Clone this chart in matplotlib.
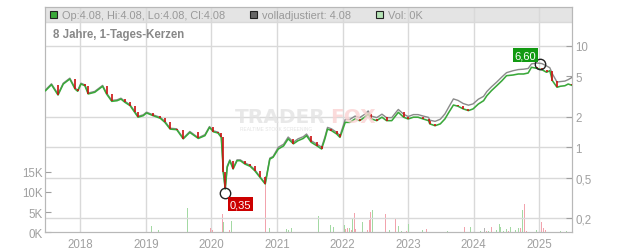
import matplotlib
matplotlib.use("Agg")
import matplotlib.pyplot as plt
from matplotlib.patches import Rectangle

plt.rcParams['font.family'] = ['Liberation Sans', 'DejaVu Sans']

# daily closes (decimal years)
dates = [2017.47, 2017.56, 2017.66, 2017.74, 2017.84, 2017.92, 2017.96,
         2018.01, 2018.07, 2018.12, 2018.22, 2018.34, 2018.40, 2018.48, 2018.56, 2018.62, 2018.68, 2018.76, 2018.83, 2018.88, 2018.96,
         2019.01, 2019.11, 2019.22, 2019.29, 2019.37, 2019.47, 2019.57, 2019.67, 2019.80, 2019.90, 2019.97,
         2020.03, 2020.10, 2020.15, 2020.17, 2020.18, 2020.21, 2020.24, 2020.28, 2020.33, 2020.39, 2020.44, 2020.51, 2020.59, 2020.66, 2020.74, 2020.82, 2020.84, 2020.89, 2020.94,
         2021.02, 2021.10, 2021.17, 2021.25, 2021.32, 2021.40, 2021.45, 2021.52, 2021.61, 2021.68, 2021.73, 2021.77, 2021.83, 2021.91, 2021.96,
         2022.04, 2022.11, 2022.19, 2022.26, 2022.34, 2022.39, 2022.44, 2022.52, 2022.60, 2022.67, 2022.75, 2022.83, 2022.85, 2022.93,
         2023.00, 2023.08, 2023.15, 2023.23, 2023.31, 2023.33, 2023.41, 2023.49, 2023.56, 2023.62, 2023.69, 2023.76, 2023.84, 2023.92, 2023.99,
         2024.07, 2024.15, 2024.20, 2024.27, 2024.35, 2024.43, 2024.50, 2024.60, 2024.68, 2024.76, 2024.83, 2024.88, 2024.96,
         2025.04, 2025.11, 2025.16, 2025.20, 2025.27, 2025.32, 2025.39, 2025.44, 2025.50]

closes = [3.62, 4.15, 3.28, 4.21, 4.72, 3.76, 3.57,
          4.21, 4.05, 3.36, 3.49, 4.00, 3.36, 2.84, 2.88, 2.99, 2.78, 2.57, 2.21, 1.98, 2.05,
          2.18, 2.05, 1.93, 1.76, 1.51, 1.49, 1.21, 1.40, 1.22, 1.30, 1.57,
          1.42, 1.38, 1.25, 0.764, 0.569, 0.386, 0.633, 0.736, 0.609, 0.736, 0.736, 0.682, 0.647, 0.586, 0.504, 0.433, 0.508, 0.764, 0.795,
          0.960, 1.03, 1.21, 1.08, 1.16, 1.22, 1.30, 1.12, 1.03, 0.96, 1.21, 1.51, 1.46, 1.35, 1.25,
          1.76, 1.76, 1.90, 1.83, 1.98, 2.13, 1.90, 1.83, 1.98, 1.83, 1.83, 2.13, 2.21, 1.98,
          1.90, 1.98, 1.98, 1.90, 1.83, 1.70, 1.63, 1.70, 1.90, 2.21, 2.61, 2.54, 2.39, 2.30, 2.39,
          2.67, 2.88, 3.23, 3.62, 4.05, 4.54, 5.09, 5.17, 5.29, 5.29, 5.41, 6.16, 6.02,
          5.83, 5.50, 5.70, 4.54, 3.91, 4.00, 4.05, 4.21, 4.08]

# fully adjusted price (gray line)
adjusted = [3.69, 4.23, 3.35, 4.29, 4.81, 3.84, 3.64,
            4.29, 4.13, 3.43, 3.56, 4.08, 3.43, 2.90, 2.94, 3.05, 2.84, 2.62, 2.25, 2.02, 2.09,
            2.22, 2.09, 1.97, 1.80, 1.54, 1.52, 1.23, 1.43, 1.24, 1.33, 1.60,
            1.45, 1.41, 1.28, 0.78, 0.58, 0.39, 0.65, 0.75, 0.62, 0.75, 0.75, 0.70, 0.66, 0.60, 0.51, 0.44, 0.52, 0.78, 0.81,
            1.00, 1.07, 1.26, 1.12, 1.21, 1.27, 1.35, 1.16, 1.07, 1.00, 1.26, 1.57, 1.52, 1.40, 1.30,
            1.88, 1.88, 2.03, 1.96, 2.12, 2.28, 2.03, 1.96, 2.12, 1.96, 1.96, 2.28, 2.36, 2.12,
            2.01, 2.10, 2.10, 2.03, 1.97, 1.85, 1.80, 1.89, 2.13, 2.50, 3.00, 2.90, 2.70, 2.60, 2.68,
            2.98, 3.18, 3.55, 3.95, 4.40, 4.95, 5.45, 5.70, 5.85, 5.90, 6.00, 6.65, 6.80,
            6.70, 6.35, 6.10, 5.30, 4.40, 4.45, 4.50, 4.65, 4.90]

# volume in thousands
vol_dates = [2019.08, 2019.11, 2019.19, 2019.63, 2019.99, 2020.02, 2020.17, 2020.18, 2020.28, 2020.30,
             2020.68, 2020.82, 2020.88, 2020.94, 2021.00, 2021.06, 2021.09, 2021.15, 2021.18, 2021.22,
             2021.32, 2021.63, 2021.67, 2021.82, 2021.86, 2021.87, 2021.99, 2022.03, 2022.04, 2022.07,
             2022.10, 2022.14, 2022.15, 2022.18, 2022.20, 2022.22, 2022.28, 2022.30, 2022.38, 2022.41,
             2022.43, 2022.45, 2022.48, 2022.54, 2022.60, 2022.63, 2022.65, 2022.71, 2022.81, 2022.85,
             2022.90, 2022.97, 2023.01, 2023.12, 2023.15, 2023.22, 2023.28, 2023.60, 2023.70, 2023.86,
             2023.95, 2024.10, 2024.16, 2024.19, 2024.22, 2024.27, 2024.31, 2024.35, 2024.37, 2024.39,
             2024.41, 2024.45, 2024.50, 2024.53, 2024.56, 2024.60, 2024.64, 2024.68, 2024.71, 2024.74,
             2024.77, 2024.81, 2024.96, 2025.03, 2025.06, 2025.10, 2025.21, 2025.27, 2025.32, 2025.42]
vol_values = [1.5, 5.0, 0.6, 6.0, 1.0, 0.5, 4.5, 2.5, 0.5, 2.9,
              0.3, 14.0, 1.0, 0.4, 0.7, 1.3, 0.5, 0.7, 0.5, 1.0,
              1.8, 4.0, 1.0, 1.8, 1.2, 2.3, 0.6, 1.8, 0.8, 1.0,
              1.0, 0.6, 3.3, 4.8, 0.7, 1.0, 0.7, 2.6, 0.6, 3.0,
              5.0, 5.5, 1.0, 0.4, 1.5, 0.5, 4.5, 0.5, 3.4, 1.5,
              0.3, 0.3, 2.0, 0.5, 2.3, 0.5, 0.8, 0.2, 1.0, 1.3,
              1.3, 0.3, 1.0, 0.4, 0.4, 1.3, 0.4, 0.6, 3.3, 2.0,
              1.3, 0.4, 0.7, 0.4, 1.3, 2.0, 0.6, 1.0, 1.0, 5.4,
              7.1, 0.4, 0.5, 2.5, 1.0, 0.5, 0.3, 0.3, 0.3, 0.2]
vol_dir = ['u', 'u', 'u', 'u', 'd', 'd', 'd', 'u', 'd', 'u',
           'u', 'd', 'u', 'd', 'u', 'u', 'd', 'u', 'u', 'u',
           'u', 'u', 'n', 'u', 'u', 'u', 'u', 'u', 'd', 'd',
           'u', 'd', 'u', 'd', 'd', 'd', 'u', 'u', 'd', 'd',
           'd', 'u', 'u', 'u', 'u', 'd', 'd', 'u', 'd', 'u',
           'u', 'd', 'u', 'u', 'u', 'u', 'd', 'u', 'n', 'd',
           'u', 'u', 'n', 'd', 'u', 'd', 'u', 'u', 'u', 'u',
           'u', 'u', 'u', 'd', 'u', 'd', 'u', 'u', 'd', 'u',
           'd', 'd', 'u', 'd', 'd', 'd', 'u', 'd', 'u', 'u']

years = [2018, 2019, 2020, 2021, 2022, 2023, 2024, 2025]
price_ticks = [10, 5, 2, 1, 0.5, 0.2]
price_labels = ['10', '5', '2', '1', '0,5', '0,2']
price_grid = [10, 2, 1, 0.5, 0.2]
vol_ticks = [0, 5, 10, 15]
vol_labels = ['0K', '5K', '10K', '15K']

high_date, high_val = 2025.01, 6.60
low_date, low_val = 2020.21, 0.35

W, H = 632, 253
fig = plt.figure(figsize=(W / 100, H / 100), dpi=100)
x0, x1, y0, y1 = 45.3, 572.3, 8.0, 233.3
ax = fig.add_axes([x0 / W, (H - y1) / H, (x1 - x0) / W, (y1 - y0) / H])
ax2 = ax.twinx()

tick_col = '#a0a0a0'
grid_col = '#d9d9d9'

# volume (left axis)
vcols = {'u': '#a3d9a3', 'd': '#f2a3ad', 'n': '#b3b3b3'}
for d, v, c in zip(vol_dates, vol_values, vol_dir):
    ax.bar(d, v, width=0.012, color=vcols[c], linewidth=0, zorder=2)
ax.set_ylim(0, (y1 - y0) / 4.04)
ax.set_xlim(2017.466, 2025.503)

# header band
ax.add_patch(Rectangle((0, 0.935), 1, 0.065, transform=ax.transAxes,
                       facecolor='#e4e4e4', edgecolor='none', zorder=0))
ax.axhline((y1 - 22.7) / 4.04, color=grid_col, lw=1, zorder=1)
for yr in years:
    ax.axvline(yr, color=grid_col, lw=1, zorder=1)

ax.set_yticks(vol_ticks)
ax.set_yticklabels(vol_labels)
ax.set_xticks(years)
ax.set_xticklabels([str(y) for y in years])
ax.tick_params(axis='y', direction='in', length=4, color=tick_col, labelcolor=tick_col,
               labelsize=8.3, pad=2)
ax.tick_params(axis='x', length=0, labelcolor=tick_col, labelsize=8.3, pad=4)
for s in ax.spines.values():
    s.set_color('#b8b8b8')

# price (right axis, log)
ax2.set_yscale('log')
ax2.set_ylim(10 ** ((148.2 - y1) / 101.2), 10 ** ((148.2 - y0) / 101.2))
for p in price_grid:
    ax2.axhline(p, color=grid_col, lw=1, zorder=0)
ax2.plot(dates, adjusted, color='#8a8a8a', lw=1.0, zorder=3)
ax2.plot(dates, closes, color='#3aa83a', lw=1.15, zorder=4)
for i in range(1, len(closes)):
    if closes[i] < closes[i - 1]:
        ax2.vlines(dates[i], closes[i], closes[i - 1], color='#cc1111', lw=1.2, zorder=5)

ax2.set_yticks(price_ticks)
ax2.set_yticklabels(price_labels)
ax2.minorticks_off()
ax2.tick_params(axis='y', direction='in', length=4, color=tick_col, labelcolor=tick_col,
                labelsize=8.3, pad=2)
for s in ax2.spines.values():
    s.set_color('#b8b8b8')

# high / low markers
ax2.plot([high_date], [high_val], 'o', ms=7.5, mfc='none', mec='#222222', mew=1, zorder=6)
ax2.plot([low_date], [low_val], 'o', ms=7.5, mfc='none', mec='#222222', mew=1, zorder=6)
ax2.annotate('6,60', xy=(high_date, high_val), xytext=(-10.5, 6.5), textcoords='offset points',
             ha='center', va='center', color='white', fontsize=8,
             bbox=dict(boxstyle='square,pad=0.18', fc='#129a12', ec='none'), zorder=7)
ax2.annotate('0,35', xy=(low_date, low_val), xytext=(11, -8), textcoords='offset points',
             ha='center', va='center', color='white', fontsize=8,
             bbox=dict(boxstyle='square,pad=0.18', fc='#cc0000', ec='none'), zorder=7)

# watermark
fig.text(235 / W, (H - 123) / H, 'TRADER', family='DejaVu Sans', weight='bold', fontsize=14.5,
         color='#e3e3e3', alpha=0.8, zorder=1)
fig.text(330 / W, (H - 123) / H, 'FOX', family='DejaVu Sans', weight='bold', fontsize=14.5,
         color='#fbd3d3', alpha=0.8, zorder=1)
fig.text(240 / W, (H - 131) / H, 'REALTIME STOCK SCREENING', fontsize=3.5, color='#e3e3e3')

# header legend
legend = [(50, '#3aa83a', 'Op:4.08, Hi:4.08, Lo:4.08, Cl:4.08'),
          (250, '#666666', 'volladjustiert: 4.08'),
          (376, '#b5e3b5', 'Vol: 0K')]
for lx, col, txt in legend:
    fig.patches.append(Rectangle((lx / W, (H - 19.3) / H), 7 / W, 7 / H, transform=fig.transFigure,
                                 facecolor=col, edgecolor='#222222', lw=0.8))
    fig.text((lx + 12) / W, (H - 15.8) / H, txt, fontsize=7.9, color='#999999', va='center')

fig.text(53 / W, (H - 37.7) / H, '8 Jahre, 1-Tages-Kerzen', fontsize=8.3, weight='bold',
         color='#888888', va='baseline')

fig.savefig('out.png', dpi=100)
